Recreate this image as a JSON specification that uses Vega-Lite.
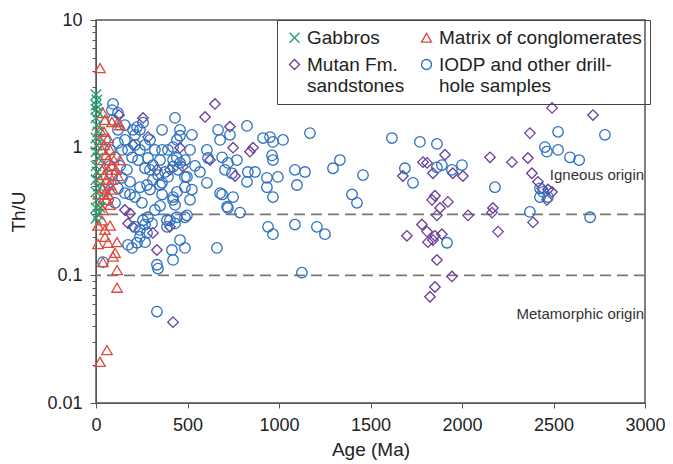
{
  "$schema": "https://vega.github.io/schema/vega-lite/v6.json",
  "width": 549,
  "height": 383,
  "autosize": {"type": "none"},
  "padding": {"left": 96, "top": 20, "right": 28, "bottom": 61},
  "config": {
    "font": "Liberation Sans",
    "view": {"stroke": "#555", "strokeWidth": 1.5}
  },
  "layer": [
    {
      "data": {"values": [{"thu": 0.3}, {"thu": 0.1}]},
      "mark": {"type": "rule", "strokeDash": [11, 6], "color": "#777", "strokeWidth": 1.8},
      "encoding": {"y": {"field": "thu", "type": "quantitative", "scale": {"type": "log", "domain": [0.01, 10]}}}
    },
    {
      "data": {"values": [
        {"sample": "Mutan Fm. sandstones", "age": 650, "thu": 2.2},
        {"sample": "Mutan Fm. sandstones", "age": 596, "thu": 1.74},
        {"sample": "Mutan Fm. sandstones", "age": 732, "thu": 1.46},
        {"sample": "Mutan Fm. sandstones", "age": 257, "thu": 1.71},
        {"sample": "Mutan Fm. sandstones", "age": 284, "thu": 1.21},
        {"sample": "Mutan Fm. sandstones", "age": 202, "thu": 1.05},
        {"sample": "Mutan Fm. sandstones", "age": 126, "thu": 1.8},
        {"sample": "Mutan Fm. sandstones", "age": 858, "thu": 1.0},
        {"sample": "Mutan Fm. sandstones", "age": 841, "thu": 0.93},
        {"sample": "Mutan Fm. sandstones", "age": 749, "thu": 1.0},
        {"sample": "Mutan Fm. sandstones", "age": 760, "thu": 0.6},
        {"sample": "Mutan Fm. sandstones", "age": 623, "thu": 0.8},
        {"sample": "Mutan Fm. sandstones", "age": 459, "thu": 1.0},
        {"sample": "Mutan Fm. sandstones", "age": 404, "thu": 0.67},
        {"sample": "Mutan Fm. sandstones", "age": 475, "thu": 0.71},
        {"sample": "Mutan Fm. sandstones", "age": 333, "thu": 0.67},
        {"sample": "Mutan Fm. sandstones", "age": 404, "thu": 0.24},
        {"sample": "Mutan Fm. sandstones", "age": 311, "thu": 0.215},
        {"sample": "Mutan Fm. sandstones", "age": 186, "thu": 0.305},
        {"sample": "Mutan Fm. sandstones", "age": 202, "thu": 0.24},
        {"sample": "Mutan Fm. sandstones", "age": 333, "thu": 0.158},
        {"sample": "Mutan Fm. sandstones", "age": 421, "thu": 0.043},
        {"sample": "Mutan Fm. sandstones", "age": 158, "thu": 0.325},
        {"sample": "Mutan Fm. sandstones", "age": 175, "thu": 0.255},
        {"sample": "Mutan Fm. sandstones", "age": 2492, "thu": 2.05},
        {"sample": "Mutan Fm. sandstones", "age": 2716, "thu": 1.8},
        {"sample": "Mutan Fm. sandstones", "age": 2371, "thu": 1.3},
        {"sample": "Mutan Fm. sandstones", "age": 2153, "thu": 0.84},
        {"sample": "Mutan Fm. sandstones", "age": 2273, "thu": 0.77},
        {"sample": "Mutan Fm. sandstones", "age": 2360, "thu": 0.83},
        {"sample": "Mutan Fm. sandstones", "age": 2382, "thu": 0.63},
        {"sample": "Mutan Fm. sandstones", "age": 1907, "thu": 0.88},
        {"sample": "Mutan Fm. sandstones", "age": 1787, "thu": 0.77},
        {"sample": "Mutan Fm. sandstones", "age": 1809, "thu": 0.76},
        {"sample": "Mutan Fm. sandstones", "age": 1841, "thu": 0.63},
        {"sample": "Mutan Fm. sandstones", "age": 1950, "thu": 0.63},
        {"sample": "Mutan Fm. sandstones", "age": 2005, "thu": 0.6},
        {"sample": "Mutan Fm. sandstones", "age": 1677, "thu": 0.6},
        {"sample": "Mutan Fm. sandstones", "age": 1852, "thu": 0.42},
        {"sample": "Mutan Fm. sandstones", "age": 1836, "thu": 0.39},
        {"sample": "Mutan Fm. sandstones", "age": 1923, "thu": 0.376},
        {"sample": "Mutan Fm. sandstones", "age": 1880, "thu": 0.337},
        {"sample": "Mutan Fm. sandstones", "age": 1863, "thu": 0.295},
        {"sample": "Mutan Fm. sandstones", "age": 2033, "thu": 0.295},
        {"sample": "Mutan Fm. sandstones", "age": 2169, "thu": 0.337},
        {"sample": "Mutan Fm. sandstones", "age": 2164, "thu": 0.31},
        {"sample": "Mutan Fm. sandstones", "age": 2197, "thu": 0.22},
        {"sample": "Mutan Fm. sandstones", "age": 2415, "thu": 0.54},
        {"sample": "Mutan Fm. sandstones", "age": 2437, "thu": 0.48},
        {"sample": "Mutan Fm. sandstones", "age": 2470, "thu": 0.47},
        {"sample": "Mutan Fm. sandstones", "age": 2492, "thu": 0.45},
        {"sample": "Mutan Fm. sandstones", "age": 2464, "thu": 0.39},
        {"sample": "Mutan Fm. sandstones", "age": 2388, "thu": 0.26},
        {"sample": "Mutan Fm. sandstones", "age": 1781, "thu": 0.25},
        {"sample": "Mutan Fm. sandstones", "age": 1809, "thu": 0.22},
        {"sample": "Mutan Fm. sandstones", "age": 1852, "thu": 0.204},
        {"sample": "Mutan Fm. sandstones", "age": 1890, "thu": 0.21},
        {"sample": "Mutan Fm. sandstones", "age": 1699, "thu": 0.204},
        {"sample": "Mutan Fm. sandstones", "age": 1814, "thu": 0.182},
        {"sample": "Mutan Fm. sandstones", "age": 1863, "thu": 0.132},
        {"sample": "Mutan Fm. sandstones", "age": 1945, "thu": 0.098},
        {"sample": "Mutan Fm. sandstones", "age": 1852, "thu": 0.081},
        {"sample": "Mutan Fm. sandstones", "age": 1825, "thu": 0.068},
        {"sample": "Mutan Fm. sandstones", "age": 1841, "thu": 0.189},

        {"sample": "IODP and other drill-hole samples", "age": 93, "thu": 2.2},
        {"sample": "IODP and other drill-hole samples", "age": 87, "thu": 1.97},
        {"sample": "IODP and other drill-hole samples", "age": 120, "thu": 1.87},
        {"sample": "IODP and other drill-hole samples", "age": 93, "thu": 1.65},
        {"sample": "IODP and other drill-hole samples", "age": 224, "thu": 1.45},
        {"sample": "IODP and other drill-hole samples", "age": 240, "thu": 1.38},
        {"sample": "IODP and other drill-hole samples", "age": 202, "thu": 1.38},
        {"sample": "IODP and other drill-hole samples", "age": 257, "thu": 1.57},
        {"sample": "IODP and other drill-hole samples", "age": 213, "thu": 1.26},
        {"sample": "IODP and other drill-hole samples", "age": 361, "thu": 1.38},
        {"sample": "IODP and other drill-hole samples", "age": 432, "thu": 1.71},
        {"sample": "IODP and other drill-hole samples", "age": 459, "thu": 1.38},
        {"sample": "IODP and other drill-hole samples", "age": 459, "thu": 1.24},
        {"sample": "IODP and other drill-hole samples", "age": 524, "thu": 1.26},
        {"sample": "IODP and other drill-hole samples", "age": 442, "thu": 1.15},
        {"sample": "IODP and other drill-hole samples", "age": 421, "thu": 1.01},
        {"sample": "IODP and other drill-hole samples", "age": 361, "thu": 0.96},
        {"sample": "IODP and other drill-hole samples", "age": 268, "thu": 1.05},
        {"sample": "IODP and other drill-hole samples", "age": 213, "thu": 1.05},
        {"sample": "IODP and other drill-hole samples", "age": 240, "thu": 0.96},
        {"sample": "IODP and other drill-hole samples", "age": 120, "thu": 1.09},
        {"sample": "IODP and other drill-hole samples", "age": 77, "thu": 0.96},
        {"sample": "IODP and other drill-hole samples", "age": 104, "thu": 0.84},
        {"sample": "IODP and other drill-hole samples", "age": 142, "thu": 0.96},
        {"sample": "IODP and other drill-hole samples", "age": 197, "thu": 0.84},
        {"sample": "IODP and other drill-hole samples", "age": 230, "thu": 0.8},
        {"sample": "IODP and other drill-hole samples", "age": 284, "thu": 0.83},
        {"sample": "IODP and other drill-hole samples", "age": 311, "thu": 0.73},
        {"sample": "IODP and other drill-hole samples", "age": 421, "thu": 0.8},
        {"sample": "IODP and other drill-hole samples", "age": 459, "thu": 0.76},
        {"sample": "IODP and other drill-hole samples", "age": 486, "thu": 0.8},
        {"sample": "IODP and other drill-hole samples", "age": 448, "thu": 0.67},
        {"sample": "IODP and other drill-hole samples", "age": 486, "thu": 0.59},
        {"sample": "IODP and other drill-hole samples", "age": 393, "thu": 0.59},
        {"sample": "IODP and other drill-hole samples", "age": 377, "thu": 0.645},
        {"sample": "IODP and other drill-hole samples", "age": 361, "thu": 0.53},
        {"sample": "IODP and other drill-hole samples", "age": 311, "thu": 0.56},
        {"sample": "IODP and other drill-hole samples", "age": 279, "thu": 0.51},
        {"sample": "IODP and other drill-hole samples", "age": 240, "thu": 0.49},
        {"sample": "IODP and other drill-hole samples", "age": 186, "thu": 0.54},
        {"sample": "IODP and other drill-hole samples", "age": 142, "thu": 0.58},
        {"sample": "IODP and other drill-hole samples", "age": 87, "thu": 0.61},
        {"sample": "IODP and other drill-hole samples", "age": 66, "thu": 0.53},
        {"sample": "IODP and other drill-hole samples", "age": 49, "thu": 0.47},
        {"sample": "IODP and other drill-hole samples", "age": 486, "thu": 0.49},
        {"sample": "IODP and other drill-hole samples", "age": 606, "thu": 0.53},
        {"sample": "IODP and other drill-hole samples", "age": 524, "thu": 0.47},
        {"sample": "IODP and other drill-hole samples", "age": 667, "thu": 1.38},
        {"sample": "IODP and other drill-hole samples", "age": 678, "thu": 1.15},
        {"sample": "IODP and other drill-hole samples", "age": 732, "thu": 1.26},
        {"sample": "IODP and other drill-hole samples", "age": 606, "thu": 0.96},
        {"sample": "IODP and other drill-hole samples", "age": 612, "thu": 0.83},
        {"sample": "IODP and other drill-hole samples", "age": 689, "thu": 0.84},
        {"sample": "IODP and other drill-hole samples", "age": 721, "thu": 0.76},
        {"sample": "IODP and other drill-hole samples", "age": 705, "thu": 0.67},
        {"sample": "IODP and other drill-hole samples", "age": 743, "thu": 0.63},
        {"sample": "IODP and other drill-hole samples", "age": 825, "thu": 1.48},
        {"sample": "IODP and other drill-hole samples", "age": 913, "thu": 1.19},
        {"sample": "IODP and other drill-hole samples", "age": 951, "thu": 1.21},
        {"sample": "IODP and other drill-hole samples", "age": 967, "thu": 1.11},
        {"sample": "IODP and other drill-hole samples", "age": 1022, "thu": 1.15},
        {"sample": "IODP and other drill-hole samples", "age": 1169, "thu": 1.3},
        {"sample": "IODP and other drill-hole samples", "age": 1333, "thu": 0.8},
        {"sample": "IODP and other drill-hole samples", "age": 1295, "thu": 0.69},
        {"sample": "IODP and other drill-hole samples", "age": 1459, "thu": 0.61},
        {"sample": "IODP and other drill-hole samples", "age": 1399, "thu": 0.43},
        {"sample": "IODP and other drill-hole samples", "age": 1426, "thu": 0.37},
        {"sample": "IODP and other drill-hole samples", "age": 1087, "thu": 0.67},
        {"sample": "IODP and other drill-hole samples", "age": 1142, "thu": 0.645},
        {"sample": "IODP and other drill-hole samples", "age": 1098, "thu": 0.51},
        {"sample": "IODP and other drill-hole samples", "age": 994, "thu": 0.59},
        {"sample": "IODP and other drill-hole samples", "age": 967, "thu": 0.8},
        {"sample": "IODP and other drill-hole samples", "age": 962, "thu": 0.87},
        {"sample": "IODP and other drill-hole samples", "age": 934, "thu": 0.58},
        {"sample": "IODP and other drill-hole samples", "age": 934, "thu": 0.49},
        {"sample": "IODP and other drill-hole samples", "age": 967, "thu": 0.41},
        {"sample": "IODP and other drill-hole samples", "age": 787, "thu": 0.31},
        {"sample": "IODP and other drill-hole samples", "age": 940, "thu": 0.24},
        {"sample": "IODP and other drill-hole samples", "age": 967, "thu": 0.21},
        {"sample": "IODP and other drill-hole samples", "age": 1087, "thu": 0.25},
        {"sample": "IODP and other drill-hole samples", "age": 1207, "thu": 0.24},
        {"sample": "IODP and other drill-hole samples", "age": 1251, "thu": 0.21},
        {"sample": "IODP and other drill-hole samples", "age": 830, "thu": 0.645},
        {"sample": "IODP and other drill-hole samples", "age": 869, "thu": 0.645},
        {"sample": "IODP and other drill-hole samples", "age": 825, "thu": 0.54},
        {"sample": "IODP and other drill-hole samples", "age": 770, "thu": 0.8},
        {"sample": "IODP and other drill-hole samples", "age": 749, "thu": 0.41},
        {"sample": "IODP and other drill-hole samples", "age": 716, "thu": 0.345},
        {"sample": "IODP and other drill-hole samples", "age": 678, "thu": 0.44},
        {"sample": "IODP and other drill-hole samples", "age": 497, "thu": 0.59},
        {"sample": "IODP and other drill-hole samples", "age": 442, "thu": 0.83},
        {"sample": "IODP and other drill-hole samples", "age": 421, "thu": 0.71},
        {"sample": "IODP and other drill-hole samples", "age": 442, "thu": 0.45},
        {"sample": "IODP and other drill-hole samples", "age": 421, "thu": 0.39},
        {"sample": "IODP and other drill-hole samples", "age": 497, "thu": 0.295},
        {"sample": "IODP and other drill-hole samples", "age": 442, "thu": 0.285},
        {"sample": "IODP and other drill-hole samples", "age": 388, "thu": 0.27},
        {"sample": "IODP and other drill-hole samples", "age": 1125, "thu": 0.105},
        {"sample": "IODP and other drill-hole samples", "age": 1617, "thu": 1.19},
        {"sample": "IODP and other drill-hole samples", "age": 1770, "thu": 1.11},
        {"sample": "IODP and other drill-hole samples", "age": 1863, "thu": 1.07},
        {"sample": "IODP and other drill-hole samples", "age": 1688, "thu": 0.69},
        {"sample": "IODP and other drill-hole samples", "age": 1732, "thu": 0.53},
        {"sample": "IODP and other drill-hole samples", "age": 1863, "thu": 0.7},
        {"sample": "IODP and other drill-hole samples", "age": 1890, "thu": 0.73},
        {"sample": "IODP and other drill-hole samples", "age": 1945, "thu": 0.67},
        {"sample": "IODP and other drill-hole samples", "age": 2000, "thu": 0.73},
        {"sample": "IODP and other drill-hole samples", "age": 2180, "thu": 0.49},
        {"sample": "IODP and other drill-hole samples", "age": 1918, "thu": 0.18},
        {"sample": "IODP and other drill-hole samples", "age": 2525, "thu": 1.33},
        {"sample": "IODP and other drill-hole samples", "age": 2781, "thu": 1.26},
        {"sample": "IODP and other drill-hole samples", "age": 2453, "thu": 1.01},
        {"sample": "IODP and other drill-hole samples", "age": 2464, "thu": 0.93},
        {"sample": "IODP and other drill-hole samples", "age": 2525, "thu": 0.96},
        {"sample": "IODP and other drill-hole samples", "age": 2590, "thu": 0.84},
        {"sample": "IODP and other drill-hole samples", "age": 2640, "thu": 0.8},
        {"sample": "IODP and other drill-hole samples", "age": 2426, "thu": 0.48},
        {"sample": "IODP and other drill-hole samples", "age": 2426, "thu": 0.41},
        {"sample": "IODP and other drill-hole samples", "age": 2470, "thu": 0.41},
        {"sample": "IODP and other drill-hole samples", "age": 2443, "thu": 0.45},
        {"sample": "IODP and other drill-hole samples", "age": 2371, "thu": 0.314},
        {"sample": "IODP and other drill-hole samples", "age": 2700, "thu": 0.285},
        {"sample": "IODP and other drill-hole samples", "age": 361, "thu": 0.43},
        {"sample": "IODP and other drill-hole samples", "age": 421, "thu": 0.41},
        {"sample": "IODP and other drill-hole samples", "age": 432, "thu": 0.356},
        {"sample": "IODP and other drill-hole samples", "age": 486, "thu": 0.285},
        {"sample": "IODP and other drill-hole samples", "age": 404, "thu": 0.27},
        {"sample": "IODP and other drill-hole samples", "age": 432, "thu": 0.255},
        {"sample": "IODP and other drill-hole samples", "age": 388, "thu": 0.24},
        {"sample": "IODP and other drill-hole samples", "age": 257, "thu": 0.27},
        {"sample": "IODP and other drill-hole samples", "age": 284, "thu": 0.285},
        {"sample": "IODP and other drill-hole samples", "age": 213, "thu": 0.24},
        {"sample": "IODP and other drill-hole samples", "age": 240, "thu": 0.227},
        {"sample": "IODP and other drill-hole samples", "age": 268, "thu": 0.25},
        {"sample": "IODP and other drill-hole samples", "age": 306, "thu": 0.255},
        {"sample": "IODP and other drill-hole samples", "age": 279, "thu": 0.215},
        {"sample": "IODP and other drill-hole samples", "age": 240, "thu": 0.2},
        {"sample": "IODP and other drill-hole samples", "age": 268, "thu": 0.182},
        {"sample": "IODP and other drill-hole samples", "age": 224, "thu": 0.18},
        {"sample": "IODP and other drill-hole samples", "age": 175, "thu": 0.173},
        {"sample": "IODP and other drill-hole samples", "age": 197, "thu": 0.164},
        {"sample": "IODP and other drill-hole samples", "age": 459, "thu": 0.189},
        {"sample": "IODP and other drill-hole samples", "age": 415, "thu": 0.158},
        {"sample": "IODP and other drill-hole samples", "age": 421, "thu": 0.132},
        {"sample": "IODP and other drill-hole samples", "age": 486, "thu": 0.164},
        {"sample": "IODP and other drill-hole samples", "age": 333, "thu": 0.121},
        {"sample": "IODP and other drill-hole samples", "age": 339, "thu": 0.113},
        {"sample": "IODP and other drill-hole samples", "age": 661, "thu": 0.164},
        {"sample": "IODP and other drill-hole samples", "age": 333, "thu": 0.052},
        {"sample": "IODP and other drill-hole samples", "age": 38, "thu": 0.127},
        {"sample": "IODP and other drill-hole samples", "age": 689, "thu": 0.43},
        {"sample": "IODP and other drill-hole samples", "age": 721, "thu": 0.337},
        {"sample": "IODP and other drill-hole samples", "age": 251, "thu": 0.37},
        {"sample": "IODP and other drill-hole samples", "age": 213, "thu": 0.41},
        {"sample": "IODP and other drill-hole samples", "age": 158, "thu": 0.44},
        {"sample": "IODP and other drill-hole samples", "age": 104, "thu": 0.37},
        {"sample": "IODP and other drill-hole samples", "age": 66, "thu": 0.39},
        {"sample": "IODP and other drill-hole samples", "age": 131, "thu": 0.72},
        {"sample": "IODP and other drill-hole samples", "age": 169, "thu": 0.67},
        {"sample": "IODP and other drill-hole samples", "age": 295, "thu": 0.67},
        {"sample": "IODP and other drill-hole samples", "age": 339, "thu": 0.61},
        {"sample": "IODP and other drill-hole samples", "age": 268, "thu": 0.69},
        {"sample": "IODP and other drill-hole samples", "age": 158, "thu": 1.15},
        {"sample": "IODP and other drill-hole samples", "age": 175, "thu": 0.96},
        {"sample": "IODP and other drill-hole samples", "age": 295, "thu": 1.15},
        {"sample": "IODP and other drill-hole samples", "age": 322, "thu": 0.96},
        {"sample": "IODP and other drill-hole samples", "age": 120, "thu": 0.48},
        {"sample": "IODP and other drill-hole samples", "age": 186, "thu": 0.43},
        {"sample": "IODP and other drill-hole samples", "age": 295, "thu": 0.47},
        {"sample": "IODP and other drill-hole samples", "age": 350, "thu": 0.35},
        {"sample": "IODP and other drill-hole samples", "age": 322, "thu": 0.325},
        {"sample": "IODP and other drill-hole samples", "age": 120, "thu": 1.38},
        {"sample": "IODP and other drill-hole samples", "age": 158, "thu": 1.5},
        {"sample": "IODP and other drill-hole samples", "age": 49, "thu": 1.15},
        {"sample": "IODP and other drill-hole samples", "age": 77, "thu": 0.72},
        {"sample": "IODP and other drill-hole samples", "age": 350, "thu": 0.8},
        {"sample": "IODP and other drill-hole samples", "age": 393, "thu": 0.96},
        {"sample": "IODP and other drill-hole samples", "age": 514, "thu": 0.96},
        {"sample": "IODP and other drill-hole samples", "age": 541, "thu": 0.72},
        {"sample": "IODP and other drill-hole samples", "age": 568, "thu": 0.645},
        {"sample": "IODP and other drill-hole samples", "age": 350, "thu": 0.51},
        {"sample": "IODP and other drill-hole samples", "age": 514, "thu": 0.39},

        {"sample": "Matrix of conglomerates", "age": 22, "thu": 4.2},
        {"sample": "Matrix of conglomerates", "age": 49, "thu": 0.227},
        {"sample": "Matrix of conglomerates", "age": 11, "thu": 0.176},
        {"sample": "Matrix of conglomerates", "age": 66, "thu": 0.18},
        {"sample": "Matrix of conglomerates", "age": 115, "thu": 0.182},
        {"sample": "Matrix of conglomerates", "age": 104, "thu": 0.15},
        {"sample": "Matrix of conglomerates", "age": 93, "thu": 0.14},
        {"sample": "Matrix of conglomerates", "age": 38, "thu": 0.127},
        {"sample": "Matrix of conglomerates", "age": 115, "thu": 0.11},
        {"sample": "Matrix of conglomerates", "age": 115, "thu": 0.08},
        {"sample": "Matrix of conglomerates", "age": 49, "thu": 0.2},
        {"sample": "Matrix of conglomerates", "age": 22, "thu": 0.021},
        {"sample": "Matrix of conglomerates", "age": 60, "thu": 0.026},
        {"sample": "Matrix of conglomerates", "age": 120, "thu": 1.59},
        {"sample": "Matrix of conglomerates", "age": 22, "thu": 1.15},
        {"sample": "Matrix of conglomerates", "age": 33, "thu": 0.96},
        {"sample": "Matrix of conglomerates", "age": 44, "thu": 1.05},
        {"sample": "Matrix of conglomerates", "age": 55, "thu": 0.88},
        {"sample": "Matrix of conglomerates", "age": 66, "thu": 0.8},
        {"sample": "Matrix of conglomerates", "age": 77, "thu": 0.96},
        {"sample": "Matrix of conglomerates", "age": 87, "thu": 0.72},
        {"sample": "Matrix of conglomerates", "age": 98, "thu": 0.8},
        {"sample": "Matrix of conglomerates", "age": 109, "thu": 0.67},
        {"sample": "Matrix of conglomerates", "age": 22, "thu": 0.8},
        {"sample": "Matrix of conglomerates", "age": 33, "thu": 0.67},
        {"sample": "Matrix of conglomerates", "age": 44, "thu": 0.61},
        {"sample": "Matrix of conglomerates", "age": 55, "thu": 0.56},
        {"sample": "Matrix of conglomerates", "age": 66, "thu": 0.67},
        {"sample": "Matrix of conglomerates", "age": 77, "thu": 0.51},
        {"sample": "Matrix of conglomerates", "age": 87, "thu": 0.56},
        {"sample": "Matrix of conglomerates", "age": 22, "thu": 0.56},
        {"sample": "Matrix of conglomerates", "age": 33, "thu": 0.48},
        {"sample": "Matrix of conglomerates", "age": 44, "thu": 0.43},
        {"sample": "Matrix of conglomerates", "age": 55, "thu": 0.39},
        {"sample": "Matrix of conglomerates", "age": 16, "thu": 0.43},
        {"sample": "Matrix of conglomerates", "age": 22, "thu": 0.356},
        {"sample": "Matrix of conglomerates", "age": 38, "thu": 0.325},
        {"sample": "Matrix of conglomerates", "age": 66, "thu": 0.43},
        {"sample": "Matrix of conglomerates", "age": 77, "thu": 0.356},
        {"sample": "Matrix of conglomerates", "age": 93, "thu": 0.47},
        {"sample": "Matrix of conglomerates", "age": 120, "thu": 0.6},
        {"sample": "Matrix of conglomerates", "age": 131, "thu": 0.8},
        {"sample": "Matrix of conglomerates", "age": 22, "thu": 1.38},
        {"sample": "Matrix of conglomerates", "age": 44, "thu": 1.33},
        {"sample": "Matrix of conglomerates", "age": 66, "thu": 1.19},
        {"sample": "Matrix of conglomerates", "age": 87, "thu": 1.59},
        {"sample": "Matrix of conglomerates", "age": 131, "thu": 1.5},
        {"sample": "Matrix of conglomerates", "age": 11, "thu": 0.245},
        {"sample": "Matrix of conglomerates", "age": 33, "thu": 0.27},
        {"sample": "Matrix of conglomerates", "age": 77, "thu": 0.245},
        {"sample": "Matrix of conglomerates", "age": 38, "thu": 1.87},
        {"sample": "Matrix of conglomerates", "age": 49, "thu": 1.65},

        {"sample": "Gabbros", "age": 0, "thu": 2.6},
        {"sample": "Gabbros", "age": 5, "thu": 2.36},
        {"sample": "Gabbros", "age": 0, "thu": 2.16},
        {"sample": "Gabbros", "age": 0, "thu": 2.0},
        {"sample": "Gabbros", "age": 11, "thu": 1.9},
        {"sample": "Gabbros", "age": 0, "thu": 1.71},
        {"sample": "Gabbros", "age": 5, "thu": 1.5},
        {"sample": "Gabbros", "age": 11, "thu": 1.33},
        {"sample": "Gabbros", "age": 0, "thu": 1.19},
        {"sample": "Gabbros", "age": 5, "thu": 1.05},
        {"sample": "Gabbros", "age": 0, "thu": 0.93},
        {"sample": "Gabbros", "age": 11, "thu": 0.83},
        {"sample": "Gabbros", "age": 0, "thu": 0.72},
        {"sample": "Gabbros", "age": 5, "thu": 0.645},
        {"sample": "Gabbros", "age": 0, "thu": 0.56},
        {"sample": "Gabbros", "age": 11, "thu": 0.5},
        {"sample": "Gabbros", "age": 0, "thu": 0.45},
        {"sample": "Gabbros", "age": 5, "thu": 0.39},
        {"sample": "Gabbros", "age": 0, "thu": 0.337},
        {"sample": "Gabbros", "age": 11, "thu": 0.3},
        {"sample": "Gabbros", "age": 0, "thu": 0.28},
        {"sample": "Gabbros", "age": 22, "thu": 0.34}
      ]},
      "mark": {"type": "point", "filled": false, "strokeWidth": 1.3, "size": 110, "opacity": 1},
      "encoding": {
        "x": {
          "field": "age", "type": "quantitative",
          "scale": {"domain": [0, 3000], "nice": false},
          "axis": {
            "title": "Age (Ma)", "values": [0, 500, 1000, 1500, 2000, 2500, 3000], "format": "d",
            "grid": false, "domainColor": "#555", "tickColor": "#555", "tickSize": 5,
            "labelFontSize": 18, "labelColor": "#222", "labelPadding": 8, "labelFlush": false,
            "titleFontSize": 19, "titleFontWeight": "normal", "titleColor": "#222", "titlePadding": 6
          }
        },
        "y": {
          "field": "thu", "type": "quantitative",
          "scale": {"type": "log", "domain": [0.01, 10], "nice": false},
          "axis": {
            "title": "Th/U",
            "values": [0.01, 0.02, 0.03, 0.04, 0.05, 0.06, 0.07, 0.08, 0.09, 0.1, 0.2, 0.3, 0.4, 0.5, 0.6, 0.7, 0.8, 0.9, 1, 2, 3, 4, 5, 6, 7, 8, 9, 10],
            "labelExpr": "abs(log(datum.value)/LN10 - round(log(datum.value)/LN10)) < 0.000001 ? format(datum.value, '~g') : ''",
            "tickSize": {"condition": {"test": "abs(log(datum.value)/LN10 - round(log(datum.value)/LN10)) < 0.000001", "value": 6}, "value": 4},
            "grid": false, "domainColor": "#555", "tickColor": "#555",
            "labelFontSize": 18, "labelColor": "#222", "labelPadding": 8, "labelFlush": false,
            "titleFontSize": 19, "titleFontWeight": "normal", "titleColor": "#222", "titlePadding": 18
          }
        },
        "color": {
          "field": "sample", "type": "nominal",
          "scale": {
            "domain": ["Gabbros", "Matrix of conglomerates", "Mutan Fm. sandstones", "IODP and other drill-hole samples"],
            "range": ["#1f9e6b", "#e0493c", "#6a3d9a", "#2a6fbf"]
          },
          "legend": {
            "title": null, "orient": "none", "legendX": 181, "legendY": 0, "columns": 2,
            "direction": "horizontal",
            "strokeColor": "#444", "padding": 8, "labelFontSize": 19, "labelColor": "#222",
            "symbolSize": 100, "symbolStrokeWidth": 1.3, "rowPadding": 7, "columnPadding": 12, "labelOffset": 3,
            "labelLimit": 300,
            "labelExpr": "datum.label == 'Mutan Fm. sandstones' ? ['Mutan Fm.', 'sandstones'] : datum.label == 'IODP and other drill-hole samples' ? ['IODP and other drill-', 'hole samples'] : datum.label"
          }
        },
        "shape": {
          "field": "sample", "type": "nominal",
          "scale": {
            "domain": ["Gabbros", "Matrix of conglomerates", "Mutan Fm. sandstones", "IODP and other drill-hole samples"],
            "range": ["M-1,-1L1,1M1,-1L-1,1", "triangle-up", "diamond", "circle"]
          },
          "legend": {
            "title": null, "orient": "none", "legendX": 181, "legendY": 0, "columns": 2,
            "direction": "horizontal",
            "strokeColor": "#444", "padding": 8, "labelFontSize": 19, "labelColor": "#222",
            "symbolSize": 100, "symbolStrokeWidth": 1.3, "rowPadding": 7, "columnPadding": 12, "labelOffset": 3,
            "labelLimit": 300,
            "labelExpr": "datum.label == 'Mutan Fm. sandstones' ? ['Mutan Fm.', 'sandstones'] : datum.label == 'IODP and other drill-hole samples' ? ['IODP and other drill-', 'hole samples'] : datum.label"
          }
        }
      }
    },
    {
      "data": {"values": [
        {"age": 2995, "thu": 0.61, "label": "Igneous origin"},
        {"age": 2995, "thu": 0.05, "label": "Metamorphic origin"}
      ]},
      "mark": {"type": "text", "align": "right", "baseline": "middle", "fontSize": 15, "color": "#333"},
      "encoding": {
        "x": {"field": "age", "type": "quantitative"},
        "y": {"field": "thu", "type": "quantitative"},
        "text": {"field": "label"}
      }
    }
  ]
}
